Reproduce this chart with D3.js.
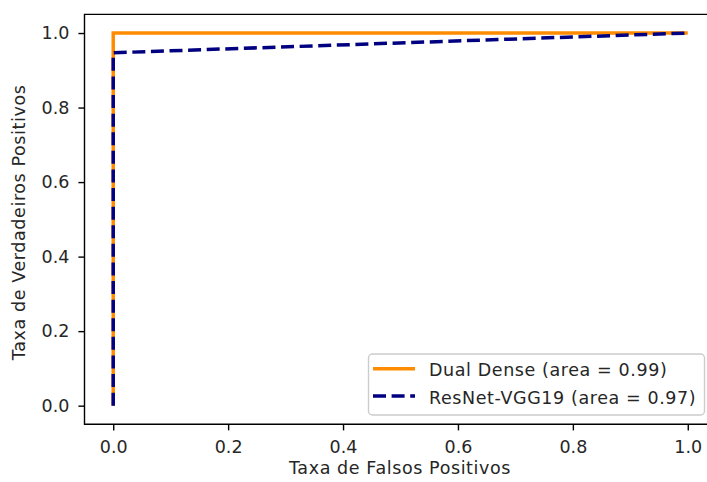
<!DOCTYPE html>
<html><head><meta charset="utf-8">
<script src="https://cdn.jsdelivr.net/npm/d3@7"></script>
<style>body{margin:0;background:#fff}svg{display:block;font-family:"DejaVu Sans",sans-serif}</style>
</head><body><svg id="c" width="707" height="482"></svg>
<script>
const seriesNames = ["Dual Dense (area = 0.99)", "ResNet-VGG19 (area = 0.97)"];
const dualDenseFPR = [0, 0, 1];
const dualDenseTPR = [0, 1, 1];
const resnetFPR = [0, 0, 1];
const resnetTPR = [0, 0.947, 1];
const xTicks = [0, 0.2, 0.4, 0.6, 0.8, 1.0];
const yTicks = [0, 0.2, 0.4, 0.6, 0.8, 1.0];
const xLabel = "Taxa de Falsos Positivos";
const yLabel = "Taxa de Verdadeiros Positivos";

const svg = d3.select("#c");
const L = 84.5, R = 716.5, T = 14.4, B = 424.3;
const x = d3.scaleLinear().domain([-0.05, 1.05]).range([L, R]);
const y = d3.scaleLinear().domain([-0.05, 1.05]).range([B, T]);
const fs = 17.5;
const ls = 0.6;
const col = "#262626";
const lw = 3.5;
const dash = "13,5.6";

const xa = svg.append("g").attr("transform", `translate(0,${B})`)
  .call(d3.axisBottom(x).tickValues(xTicks).tickFormat(d3.format(".1f")).tickSizeOuter(0).tickSize(6.1).tickPadding(10.3));
const ya = svg.append("g").attr("transform", `translate(${L},0)`)
  .call(d3.axisLeft(y).tickValues(yTicks).tickFormat(d3.format(".1f")).tickSizeOuter(0).tickSize(6.1).tickPadding(9));
[xa, ya].forEach(a => {
  a.select(".domain").remove();
  a.selectAll("line").attr("stroke", "#000").attr("stroke-width", 1.4);
  a.selectAll("text").attr("font-size", fs).attr("fill", col).attr("font-family", "DejaVu Sans");
});

const line = d3.line().x(d => x(d[0])).y(d => y(d[1]));
const dd = dualDenseFPR.map((v, i) => [v, dualDenseTPR[i]]);
const rv = resnetFPR.map((v, i) => [v, resnetTPR[i]]);
svg.append("path").attr("d", line(dd)).attr("fill", "none").attr("stroke", "#ff8c00").attr("stroke-width", lw);
svg.append("path").attr("d", line(rv)).attr("fill", "none").attr("stroke", "#000080").attr("stroke-width", lw).attr("stroke-dasharray", dash);

// spines
svg.append("path").attr("d", `M${L},${T}V${B}H${R}V${T}Z`).attr("fill", "none").attr("stroke", "#000").attr("stroke-width", 1.4);

svg.append("text").attr("x", 400).attr("y", 474).attr("text-anchor", "middle").attr("font-size", fs).attr("letter-spacing", ls).attr("fill", col).text(xLabel);
svg.append("text").attr("transform", `translate(25,${(T + B) / 2 + 3}) rotate(-90)`).attr("text-anchor", "middle").attr("font-size", fs).attr("letter-spacing", ls).attr("fill", col).text(yLabel);

// legend
const lg = svg.append("g");
lg.append("rect").attr("x", 368.5).attr("y", 354).attr("width", 336).attr("height", 61).attr("rx", 4)
  .attr("fill", "#fff").attr("fill-opacity", 0.8).attr("stroke", "#cccccc").attr("stroke-width", 1.4);
const styles = [{c: "#ff8c00", d: null}, {c: "#000080", d: dash}];
seriesNames.forEach((n, i) => {
  const yy = 368.8 + i * 27.3;
  const l = lg.append("line").attr("x1", 373).attr("x2", 415).attr("y1", yy).attr("y2", yy).attr("stroke", styles[i].c).attr("stroke-width", lw);
  if (styles[i].d) l.attr("stroke-dasharray", styles[i].d);
  lg.append("text").attr("x", 429).attr("y", yy + 7.5).attr("font-size", fs).attr("letter-spacing", ls).attr("fill", col).text(n);
});
</script></body></html>
